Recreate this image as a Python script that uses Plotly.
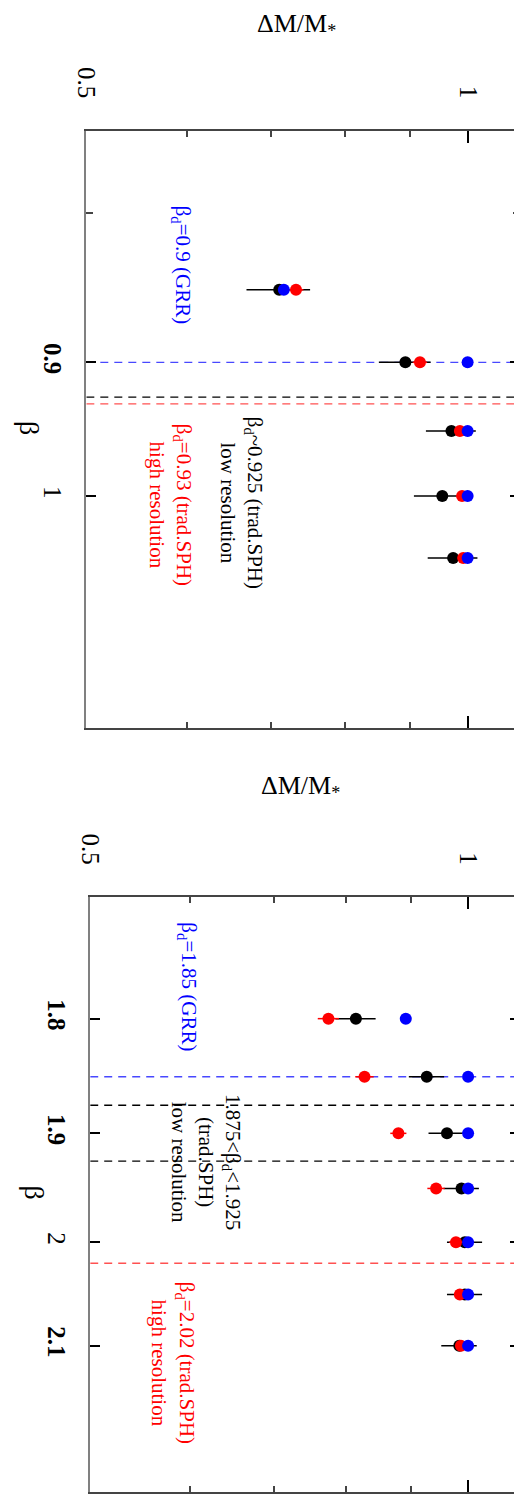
import numpy as np
import plotly.graph_objects as go

# ---------------- data ----------------
beta_top = [0.85, 0.90, 0.95, 1.00, 1.05]
black_top = [0.710, 0.893, 0.971, 0.955, 0.974]
black_top_err = [0.041, 0.042, 0.044, 0.048, 0.044]
red_top = [0.732, 0.917, 0.986, 0.990, 0.992]
red_top_err = [0.010, 0.012, 0.010, 0.010, 0.010]
blue_top = [0.716, 1.000, 1.000, 1.000, 1.000]
lines_top = {"blue": [0.90], "black": [0.925], "red": [0.93]}

beta_bot = [1.80, 1.85, 1.90, 1.95, 2.00, 2.05, 2.10]
black_bot = [0.814, 0.927, 0.962, 0.988, 0.994, 0.994, 0.984]
black_bot_err = [0.030, 0.030, 0.032, 0.032, 0.032, 0.032, 0.032]
red_bot = [0.774, 0.827, 0.880, 0.943, 0.978, 0.985, 0.987]
red_bot_err = [0.015, 0.014, 0.013, 0.015, 0.012, 0.010, 0.010]
blue_bot = [0.892, 1.000, 1.000, 1.000, 1.000, 1.000, 1.000]
lines_bot = {"blue": [1.85], "black": [1.875, 1.925], "red": [2.02]}

dm_range = [0.5, 1.1]
beta_top_range = [1.2, 0.75]
beta_bot_range = [2.25, 1.7]
dm_ticks = [0.5, 1]
dm_ticktext = ["0.5", "1"]
dm_minor = [0.6, 0.7, 0.8, 0.9]
beta_top_ticks = [0.9, 1.0]
beta_top_ticktext = ["<b>0.9</b>", "1"]
beta_top_minor = [0.8]
beta_bot_ticks = [1.8, 1.9, 2.0, 2.1]
beta_bot_ticktext = ["<b>1.8</b>", "<b>1.9</b>", "2", "<b>2.1</b>"]

FONT = "Liberation Serif, Times New Roman, serif"
OFF = 8                      # default body margin of the html page
W, H = 522 - OFF, 1494 - OFF  # figure size so that page fits the window
BLUE = "#0000ff"
RED = "#ff0000"


def px_x(p):
    return (p - OFF) / W


def px_y(p):
    return 1 - (p - OFF) / H


fig = go.Figure()


def add_panel(xa, ya, beta, black, black_err, red, red_err, blue, lines):
    dash_col = {"blue": "rgba(40,40,255,0.85)", "black": "black", "red": "rgba(255,50,50,0.85)"}
    for col, vals in lines.items():
        for v in vals:
            fig.add_trace(go.Scatter(
                x=dm_range, y=[v, v], mode="lines", xaxis=xa, yaxis=ya, showlegend=False,
                hoverinfo="skip", cliponaxis=True,
                line=dict(color=dash_col[col], width=1.3, dash="8px,6px")))
    fig.add_trace(go.Scatter(
        x=black, y=beta, mode="markers", xaxis=xa, yaxis=ya, showlegend=False,
        marker=dict(color="black", size=12),
        error_x=dict(type="data", array=black_err, color="black", thickness=1.5, width=0)))
    fig.add_trace(go.Scatter(
        x=red, y=beta, mode="markers", xaxis=xa, yaxis=ya, showlegend=False,
        marker=dict(color=RED, size=12),
        error_x=dict(type="data", array=red_err, color=RED, thickness=1.5, width=0)))
    fig.add_trace(go.Scatter(
        x=blue, y=beta, mode="markers", xaxis=xa, yaxis=ya, showlegend=False,
        marker=dict(color=BLUE, size=12)))


add_panel("x", "y", beta_top, black_top, black_top_err, red_top, red_top_err, blue_top, lines_top)
add_panel("x2", "y2", beta_bot, black_bot, black_bot_err, red_bot, red_bot_err, blue_bot, lines_bot)


def xaxis_cfg(dom, anchor):
    return dict(domain=dom, anchor=anchor, type="log",
                range=[np.log10(dm_range[0]), np.log10(dm_range[1])], side="top",
                tickmode="array", tickvals=dm_ticks, ticktext=dm_ticktext, tickangle=90,
                ticks="inside", ticklen=12, tickwidth=1.5, tickcolor="black",
                minor=dict(tickmode="array", tickvals=dm_minor, ticks="inside", ticklen=6,
                           tickwidth=1.5, tickcolor="#444", showgrid=False),
                showline=True, linecolor="#444", linewidth=2, mirror="ticks",
                showgrid=False, zeroline=False, ticklabelstandoff=22,
                tickfont=dict(family=FONT, size=25, color="black"))


def yaxis_cfg(dom, anchor, rng, tv, tt, minor_vals):
    cfg = dict(domain=dom, anchor=anchor, type="log",
               range=[np.log10(rng[0]), np.log10(rng[1])],
               tickmode="array", tickvals=tv, ticktext=tt, tickangle=90,
               ticks="inside", ticklen=10, tickwidth=1.5, tickcolor="black",
               showline=True, linecolor="#808080", linewidth=2, mirror="ticks",
               showgrid=False, zeroline=False, ticklabelstandoff=10,
               tickfont=dict(family=FONT, size=25, color="black"))
    if minor_vals:
        cfg["minor"] = dict(tickmode="array", tickvals=minor_vals, ticks="inside", ticklen=7,
                            tickwidth=1.5, tickcolor="#444", showgrid=False)
    return cfg


def ann(xref, yref, dm, beta, text, color):
    return dict(xref=xref, yref=yref, x=np.log10(dm), y=np.log10(beta), text=text,
                showarrow=False, textangle=90, align="center",
                xanchor="center", yanchor="middle",
                font=dict(family=FONT, size=21, color=color))


def title(px, py, text, angle=0, size=26):
    return dict(xref="paper", yref="paper", x=px_x(px), y=px_y(py), text=text,
                textangle=angle, showarrow=False, xanchor="center", yanchor="middle",
                font=dict(family=FONT, size=size, color="black"))


annotations = [
    ann("x", "y", 0.595, 0.834, "β<sub>d</sub>=0.9 (GRR)", BLUE),
    ann("x", "y", 0.664, 1.0055, "β<sub>d</sub>~0.925 (trad.SPH)<br>low resolution", "black"),
    ann("x", "y", 0.583, 1.0067, "β<sub>d</sub>=0.93 (trad.SPH)<br>high resolution", RED),
    ann("x2", "y2", 0.5985, 1.773, "β<sub>d</sub>=1.85 (GRR)", BLUE),
    ann("x2", "y2", 0.618, 1.9256, "1.875&lt;β<sub>d</sub>&lt;1.925<br>(trad.SPH)<br>low resolution", "black"),
    ann("x2", "y2", 0.582, 2.117, "β<sub>d</sub>=2.02 (trad.SPH)<br>high resolution", RED),
    title(291, 25, "ΔM/M<sub>*</sub>"),
    title(295, 788, "ΔM/M<sub>*</sub>"),
    title(17, 428, "β", 90, 28),
    title(22, 1193, "β", 90, 28),
]

fig.update_layout(
    width=W, height=H, margin=dict(l=0, r=0, t=0, b=0),
    paper_bgcolor="white", plot_bgcolor="white",
    xaxis=xaxis_cfg([px_x(75), px_x(520)], "y"),
    yaxis=yaxis_cfg([px_y(728), px_y(131)], "x",
                    beta_top_range, beta_top_ticks, beta_top_ticktext, beta_top_minor),
    xaxis2=xaxis_cfg([px_x(79), px_x(520)], "y2"),
    yaxis2=yaxis_cfg([px_y(1493), px_y(898)], "x2",
                     beta_bot_range, beta_bot_ticks, beta_bot_ticktext, None),
    annotations=annotations,
    font=dict(family=FONT),
)

fig.write_html("out.html")
